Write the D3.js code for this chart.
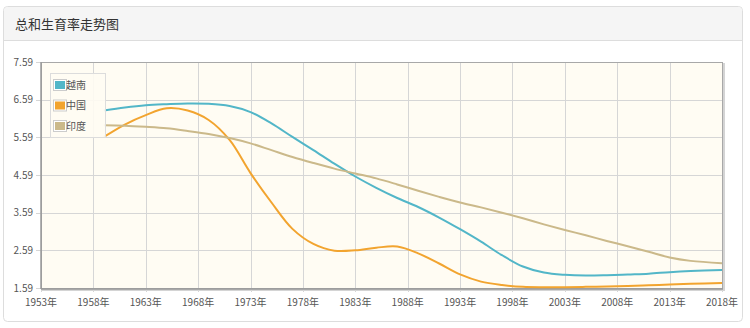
<!DOCTYPE html>
<html><head><meta charset="utf-8">
<script src="https://cdn.jsdelivr.net/npm/d3@7"></script>
<style>
html,body{margin:0;padding:0;background:#fff;}
svg{display:block;font-family:"Noto Sans CJK SC","Noto Sans",sans-serif;}
</style></head>
<body><svg id="c" width="750" height="328"></svg>
<script>
const title = "总和生育率走势图";
const seriesNames = ["越南", "中国", "印度"];
const seriesColors = ["#52b6c8", "#f2a42f", "#cbb98a"];
const years = [1959,1961,1963,1965,1967,1969,1971,1973,1975,1977,1979,1981,1983,1985,1987,1989,1991,1993,1995,1997,1999,2001,2003,2005,2007,2009,2011,2013,2015,2018];
const vietnam = [6.30,6.38,6.44,6.47,6.49,6.48,6.42,6.26,5.96,5.60,5.25,4.89,4.55,4.25,3.98,3.74,3.46,3.15,2.82,2.46,2.16,2.00,1.94,1.92,1.93,1.95,1.97,2.01,2.04,2.07];
const china   = [5.60,5.93,6.18,6.36,6.30,6.05,5.52,4.64,3.86,3.16,2.76,2.58,2.59,2.66,2.69,2.51,2.24,1.95,1.76,1.67,1.62,1.61,1.61,1.62,1.63,1.64,1.66,1.68,1.70,1.72];
const india   = [5.91,5.90,5.87,5.83,5.76,5.68,5.57,5.43,5.25,5.07,4.91,4.76,4.63,4.50,4.34,4.17,4.01,3.86,3.73,3.59,3.44,3.28,3.13,2.99,2.84,2.70,2.55,2.40,2.31,2.25];
const xTicks = [1953,1958,1963,1968,1973,1978,1983,1988,1993,1998,2003,2008,2013,2018];
const yTicks = [1.59,2.59,3.59,4.59,5.59,6.59,7.59];
const seriesData = [vietnam, china, india];

const svg = d3.select("#c");
// panel
svg.append("rect").attr("x",3.5).attr("y",6.5).attr("width",739).attr("height",315).attr("rx",4)
  .attr("fill","#fff").attr("stroke","#dddddd");
svg.append("path").attr("d","M4,40.5 V11 Q4,7 8,7 H738 Q742,7 742,11 V40.5 Z").attr("fill","#f5f5f5");
svg.append("line").attr("x1",4).attr("x2",742).attr("y1",40.5).attr("y2",40.5).attr("stroke","#dddddd");
svg.append("text").attr("x",15).attr("y",29).attr("font-size",13).attr("fill","#333").text(title);

const L=41, R=722, T=62, B=288;
const x = d3.scaleLinear().domain([1953,2018]).range([L,R]);
const y = d3.scaleLinear().domain([1.59,7.59]).range([B,T]);

// shadow
svg.append("rect").attr("x",L+2).attr("y",T+2).attr("width",R-L).attr("height",B-T)
  .attr("fill","none").attr("stroke","#d4d4d4").attr("stroke-width",2);
svg.append("rect").attr("x",L).attr("y",T).attr("width",R-L).attr("height",B-T).attr("fill","#fffcf3");

const g = svg.append("g");
g.selectAll(".vg").data(xTicks).join("line")
  .attr("x1",d=>Math.round(x(d))+0.5).attr("x2",d=>Math.round(x(d))+0.5)
  .attr("y1",T).attr("y2",B+4).attr("stroke","#d6d6d6");
g.selectAll(".hg").data(yTicks).join("line")
  .attr("x1",L-5).attr("x2",R).attr("y1",d=>Math.round(y(d))+0.5).attr("y2",d=>Math.round(y(d))+0.5)
  .attr("stroke","#d6d6d6");

svg.append("rect").attr("x",L+0.5).attr("y",T+0.5).attr("width",R-L).attr("height",B-T)
  .attr("fill","none").attr("stroke","#a8a8a8");
svg.append("line").attr("x1",L).attr("x2",R+1).attr("y1",B+1).attr("y2",B+1).attr("stroke","#9a9a9a").attr("stroke-width",1.5);
svg.append("line").attr("x1",L).attr("x2",L).attr("y1",T).attr("y2",B+1).attr("stroke","#9a9a9a").attr("stroke-width",1.5);

// lines
const line = d3.line().x((d,i)=>x(years[i])).y(d=>y(d)).curve(d3.curveCatmullRom.alpha(0.5));
seriesData.forEach((s,k)=>{
  svg.append("path").attr("d",line(s)).attr("fill","none").attr("stroke",seriesColors[k])
    .attr("stroke-width",2).attr("stroke-linejoin","round");
});

// axis labels
svg.selectAll(".yl").data(yTicks).join("text")
  .attr("x",33).attr("y",d=>y(d)+3.5).attr("text-anchor","end")
  .attr("font-size",10).attr("fill","#555").text(d=>d.toFixed(2));
svg.selectAll(".xl").data(xTicks).join("text")
  .attr("x",d=>x(d)).attr("y",306).attr("text-anchor","middle")
  .attr("font-size",10).attr("fill","#555").text(d=>d+"年");

// legend
const lg = svg.append("g");
lg.append("rect").attr("x",50.5).attr("y",73.5).attr("width",55).attr("height",64)
  .attr("fill","#fffcf3").attr("fill-opacity",0.9).attr("stroke","#dcdcdc");
seriesNames.forEach((n,k)=>{
  const cy = 85 + k*20.5;
  lg.append("rect").attr("x",53.5).attr("y",cy-5.5).attr("width",13).attr("height",11)
    .attr("fill","#fff").attr("stroke","#cccccc");
  lg.append("rect").attr("x",55).attr("y",cy-4).attr("width",10).attr("height",8).attr("fill",seriesColors[k]);
  lg.append("text").attr("x",66).attr("y",cy+3.5).attr("font-size",10).attr("fill","#545454").text(n);
});
</script></body></html>
